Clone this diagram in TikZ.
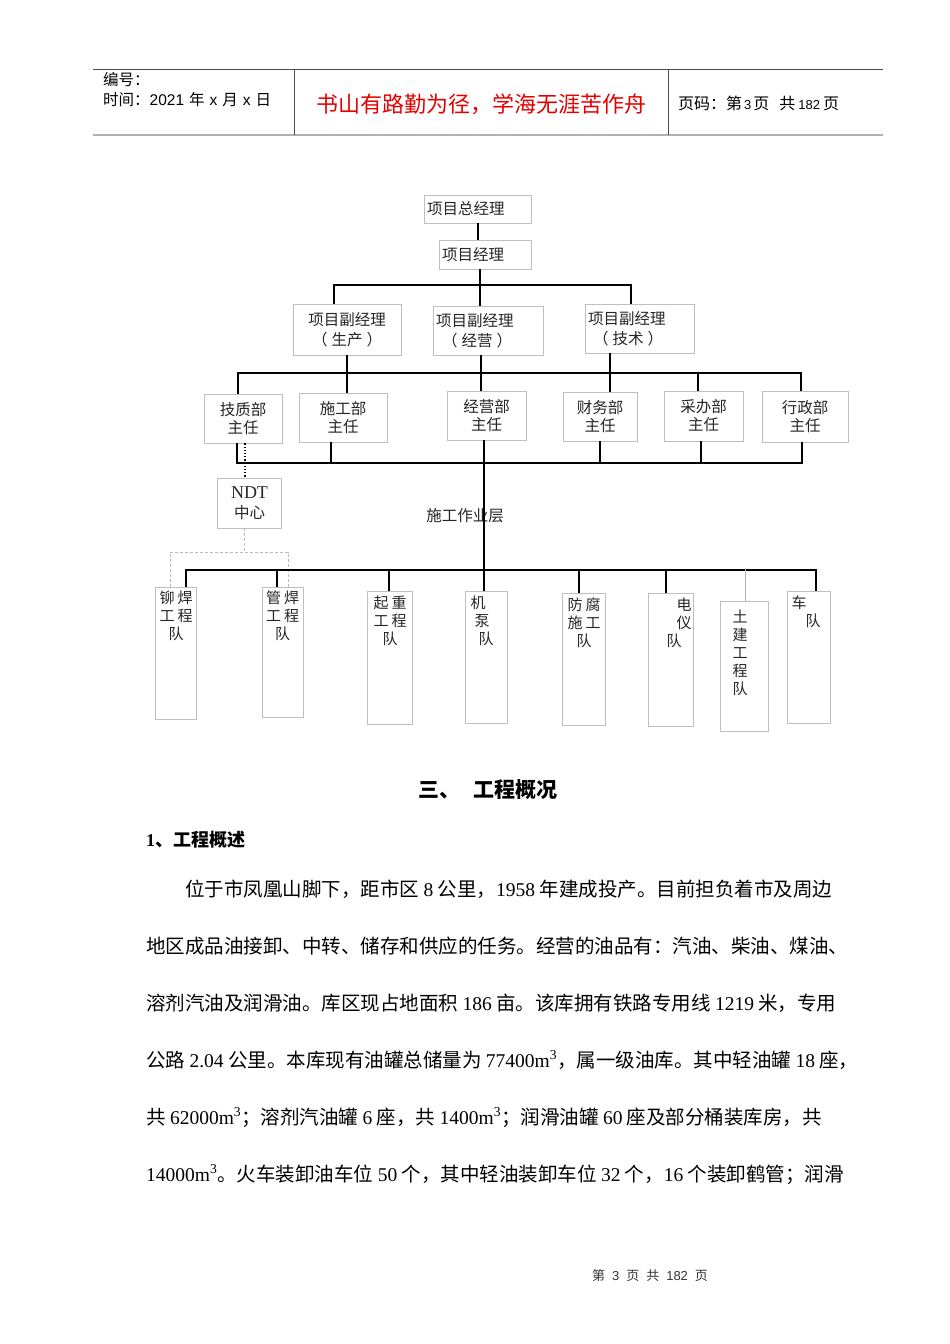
\documentclass[tikz,border=0pt]{standalone}
\usepackage{fontspec}
\setmainfont{Liberation Serif}
\newfontfamily\cjk{Noto Sans CJK SC}
\newfontfamily\arl{Liberation Sans}
\newcommand\fsz[2]{\fontsize{#1}{#2}\selectfont}
\definecolor{mottored}{RGB}{230,0,0}
\tikzset{
  box/.style={draw=gray!50, line width=0.9pt, inner ysep=0pt, inner xsep=3pt,
    font=\cjk\fsz{15.5}{20}, text=black!85},
  dept/.style={box, align=center, font=\cjk\fsz{15.5}{18}},
  tall/.style={draw=gray!50, line width=0.9pt, inner sep=0pt},
  vtext/.style={inner sep=0pt, font=\cjk\fsz{15}{18}, text=black!85},
  conn/.style={line width=1.6pt, black},
  gdash/.style={gray!55, dashed, dash pattern=on 3pt off 2pt, line width=0.7pt},
  body/.style={anchor=base west, inner sep=0pt, font=\cjk\fsz{19.5}{19.5}},
  hdr/.style={anchor=base west, inner sep=0pt, font=\cjk\fsz{15.5}{18}},
}
\begin{document}
\begin{tikzpicture}[x=1pt,y=-1pt]
\useasboundingbox (0,0) rectangle (950,1344);
\fill[white] (0,0) rectangle (950,1344);

% ---------- header table ----------
\draw[gray!60!black, line width=0.9pt] (93,69) -- (883,69);
\draw[gray!60, line width=2pt] (93,135) -- (883,135);
\draw[gray!60!black, line width=0.8pt] (294,69) -- (294,135);
\draw[gray!60!black, line width=0.8pt] (668,69) -- (668,135);
\node[hdr] (hno) at (103,85) {编号：};
\node[hdr] (htime) at (103,105) {时间：{\arl 2021}\hspace{5pt}年\hspace{5pt}{\arl x}\hspace{5pt}月\hspace{5pt}{\arl x}\hspace{5pt}日};
\node[inner sep=0pt, font=\cjk\fsz{22}{22}, text=mottored] (motto) at (481,104) {书山有路勤为径，学海无涯苦作舟};
\node[anchor=west, inner sep=0pt, font=\cjk\fsz{16}{16}] (hpage) at (678,103) {页码：第\hspace{2pt}{\arl\fsz{13}{13}3}\hspace{2pt}页\hspace{10pt}共\hspace{3pt}{\arl\fsz{13}{13}182}\hspace{3pt}页};

% ---------- org chart ----------
\node[box, text width=101pt, minimum height=28pt, align=left] (zjl) at (477.5,209) {项目总经理};
\node[box, text width=86pt, minimum height=29pt, align=left] (jl) at (485,254.5) {项目经理};
\node[box, text width=102pt, minimum height=51pt, align=center] (fs) at (347,329.5) {项目副经理\\（\hspace{4pt}生产\hspace{4pt}）};
\node[box, text width=104pt, minimum height=49pt, align=left] (fj) at (488,330.5) {项目副经理\\\hspace*{6pt}（\hspace{4pt}经营\hspace{4pt}）};
\node[box, text width=103pt, minimum height=49pt, align=left] (ft) at (639.5,328.5) {项目副经理\\\hspace*{5pt}（\hspace{4pt}技术\hspace{4pt}）};

\node[dept, text width=72pt, minimum height=49pt] (jz) at (243,418.5) {技质部\\主任};
\node[dept, text width=82pt, minimum height=49pt] (sg) at (343,417.5) {施工部\\主任};
\node[dept, text width=73pt, minimum height=49pt] (jy) at (486.5,415.5) {经营部\\主任};
\node[dept, text width=68pt, minimum height=49pt] (cw) at (600,416.5) {财务部\\主任};
\node[dept, text width=73pt, minimum height=50pt] (cb) at (703.5,416) {采办部\\主任};
\node[dept, text width=80pt, minimum height=51pt] (xz) at (805,416.5) {行政部\\主任};

\node[box, text width=58pt, minimum height=50pt, align=center] (ndt) at (249.5,503)
  {{\rmfamily\fsz{18}{20}NDT}\\中心};

\node[inner sep=0pt, font=\cjk\fsz{15.5}{16}, text=black!85] (layer) at (465,516) {施工作业层};

% bottom team boxes
\node[tall, minimum width=41pt, minimum height=132pt] (mh) at (175.5,653) {};
\node[tall, minimum width=41pt, minimum height=130pt] (gh) at (282.5,652) {};
\node[tall, minimum width=45pt, minimum height=133pt] (qz) at (389.5,657.5) {};
\node[tall, minimum width=42pt, minimum height=132pt] (jb) at (486,657) {};
\node[tall, minimum width=43pt, minimum height=132pt] (ff) at (583.5,659) {};
\node[tall, minimum width=45pt, minimum height=133pt] (dy) at (670.5,659.5) {};
\node[tall, minimum width=48pt, minimum height=130pt] (tj) at (744,666) {};
\node[tall, minimum width=43pt, minimum height=132pt] (cd) at (808.5,657) {};

\node[vtext, anchor=north, align=center] (mht) at (176,590.5) {铆\hspace{3pt}焊\\工\hspace{3pt}程\\队};
\node[vtext, anchor=north, align=center] (ght) at (282.5,590.5) {管\hspace{3pt}焊\\工\hspace{3pt}程\\队};
\node[vtext, anchor=north, align=center] (qzt) at (390,595.5) {起\hspace{3pt}重\\工\hspace{3pt}程\\队};
\node[vtext, anchor=north west, align=left] (jbt) at (470.5,595.5) {机\\\hspace*{4pt}泵\\\hspace*{8pt}队};
\node[vtext, anchor=north, align=center] (fft) at (584,597.5) {防\hspace{3pt}腐\\施\hspace{3pt}工\\队};
\node[vtext, anchor=north west, align=left] (dyt) at (666.5,597.5) {\hspace*{10pt}电\\\hspace*{10pt}仪\\队};
\node[vtext, anchor=north, align=center] (tjt) at (740,609.5) {土\\建\\工\\程\\队};
\node[vtext, anchor=north west, align=left] (cdt) at (791.5,595.5) {车\\\hspace*{14pt}队};

% bus coordinates
\coordinate (b1a) at (334,285); \coordinate (b1b) at (480,285); \coordinate (b1c) at (631,285);
\coordinate (b2a) at (238,373); \coordinate (b2s) at (347,373); \coordinate (b2j) at (481,373);
\coordinate (b2t) at (610,373); \coordinate (b2c) at (698,373); \coordinate (b2x) at (801,373);
\coordinate (b3a) at (237,463); \coordinate (b3s) at (331,463); \coordinate (b3j) at (484,463);
\coordinate (b3t) at (600,463); \coordinate (b3c) at (701,463); \coordinate (b3x) at (802,463);
\coordinate (dt) at (245,463);
\coordinate (nd) at (244,552); \coordinate (ndl) at (170,552); \coordinate (ndr) at (288,552);
\coordinate (b4a) at (186,570); \coordinate (b4g) at (277,570); \coordinate (b4q) at (389,570);
\coordinate (b4f) at (579,570); \coordinate (b4d) at (666,570); \coordinate (b4t) at (745,568);
\coordinate (b4z) at (816,570);

% connectors
\draw[conn] ([xshift=0.5pt]zjl.south) -- ([xshift=0.5pt]zjl.south |- jl.north);
\draw[conn] (b1b |- jl.south) -- (b1b);
\draw[conn] (b1a |- fs.north) -- (b1a) -- (b1c) -- (b1c |- ft.north);
\draw[conn] (b1b) -- (b1b |- fj.north);

\draw[conn] (b2a |- jz.north) -- (b2a) -- (b2x) -- (b2x |- xz.north);
\draw[conn] (b2s |- fs.south) -- (b2s |- sg.north);
\draw[conn] (b2j |- fj.south) -- (b2j |- jy.north);
\draw[conn] (b2t |- ft.south) -- (b2t |- cw.north);
\draw[conn] (b2c) -- (b2c |- cb.north);

\draw[conn] (b3a |- jz.south) -- (b3a) -- (b3x) -- (b3x |- xz.south);
\draw[conn] (b3s |- sg.south) -- (b3s);
\draw[conn] (b3t |- cw.south) -- (b3t);
\draw[conn] (b3c |- cb.south) -- (b3c);
\draw[conn] (b3j |- jy.south) -- (b3j |- jb.north);

\draw[black, line width=1.2pt, dotted] (dt |- jz.south) -- (dt |- ndt.north);
\draw[gdash] (nd |- ndt.south) -- (nd);
\draw[gdash] (ndl |- mh.north) -- (ndl) -- (ndr) -- (ndr |- gh.north);

\draw[conn] (b4a |- mh.north) -- (b4a) -- (b4z) -- (b4z |- cd.north);
\draw[conn] (b4g) -- (b4g |- gh.north);
\draw[conn] (b4q) -- (b4q |- qz.north);
\draw[conn] (b4f) -- (b4f |- ff.north);
\draw[conn] (b4d) -- (b4d |- dy.north);
\draw[gray!60, line width=0.7pt] (b4t) -- (b4t |- tj.north);

% ---------- body text ----------
\node[inner sep=0pt, font=\cjk\bfseries\fsz{21}{21}] (h3) at (488,790) {三、\hspace{14pt}工程概况};
\node[anchor=west, inner sep=0pt, font=\cjk\bfseries\fsz{18}{18}] (h31) at (146,840) {{\rmfamily\bfseries 1}、工程概述};

\node[body] (l1) at (185,896) {位于市凤凰山脚下，距市区 {\rmfamily 8} 公里，{\rmfamily 1958} 年建成投产。目前担负着市及周边};
\node[body] (l2) at (146,953) {地区成品油接卸、中转、储存和供应的任务。经营的油品有：汽油、柴油、煤油、};
\node[body] (l3) at (146,1010) {溶剂汽油及润滑油。库区现占地面积 {\rmfamily 186} 亩。该库拥有铁路专用线 {\rmfamily 1219} 米，专用};
\node[body] (l4) at (146,1067) {公路 {\rmfamily 2.04} 公里。本库现有油罐总储量为 {\rmfamily 77400m\textsuperscript{3}}，属一级油库。其中轻油罐 {\rmfamily 18} 座，};
\node[body] (l5) at (146,1124) {共 {\rmfamily 62000m\textsuperscript{3}}；溶剂汽油罐 {\rmfamily 6} 座，共 {\rmfamily 1400m\textsuperscript{3}}；润滑油罐 {\rmfamily 60} 座及部分桶装库房，共};
\node[body] (l6) at (146,1181) {{\rmfamily 14000m\textsuperscript{3}}。火车装卸油车位 {\rmfamily 50} 个，其中轻油装卸车位 {\rmfamily 32} 个，{\rmfamily 16} 个装卸鹤管；润滑};

% ---------- footer ----------
\node[inner sep=0pt, font=\cjk\fsz{13}{13}, text=black!80] (foot) at (650,1276) {第\hspace{7pt}{\arl 3}\hspace{7pt}页\hspace{7pt}共\hspace{7pt}{\arl 182}\hspace{7pt}页};
\end{tikzpicture}
\end{document}
